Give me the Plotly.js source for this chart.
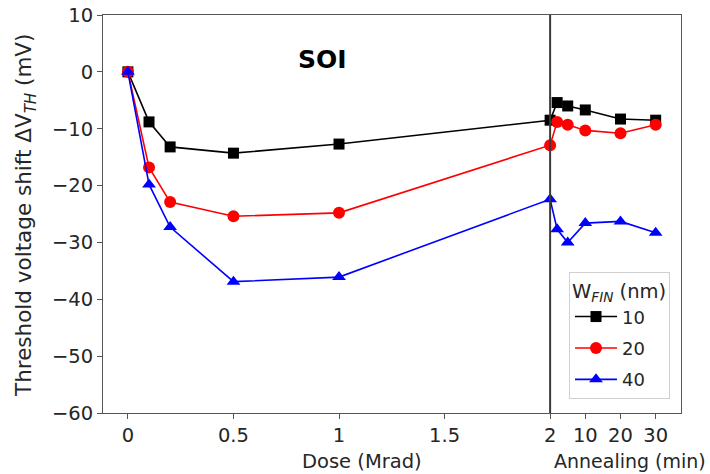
<!DOCTYPE html>
<html><head><meta charset="utf-8">
<script src="https://cdn.plot.ly/plotly-3.0.1.min.js"></script>
<style>html,body{margin:0;padding:0;background:#fff}#chart{width:710px;height:474px}</style>
</head><body><div id="chart"></div>
<script>
// Dose steps (Mrad) followed by annealing times (min)
const doseMrad = [0, 0.1, 0.2, 0.5, 1, 2];
const annealMin = [2, 5, 10, 20, 30];
const minPerUnit = 60; // annealing minutes mapped onto the dose axis after 2 Mrad

const w10 = [0, -8.8, -13.2, -14.3, -12.7, -8.5, -5.4, -6.0, -6.7, -8.3, -8.5];
const w20 = [0, -16.8, -22.9, -25.4, -24.8, -12.9, -8.8, -9.3, -10.3, -10.8, -9.3];
const w40 = [0, -19.8, -27.3, -36.9, -36.1, -22.4, -27.7, -30.0, -26.6, -26.3, -28.3];

const doseTicks = [0, 0.5, 1, 1.5, 2];
const doseTickLabels = ["0", "0.5", "1", "1.5", "2"];
const annealTicks = [10, 20, 30];
const annealTickLabels = ["10", "20", "30"];

const lastDose = doseMrad[doseMrad.length - 1];
const xs = doseMrad.concat(annealMin.map(t => lastDose + t / minPerUnit));
const tickvals = doseTicks.concat(annealTicks.map(t => lastDose + t / minPerUnit));
const ticktext = doseTickLabels.concat(annealTickLabels);

const font = "DejaVu Sans, sans-serif";
const txt = "#262626";
function tr(y, name, color, symbol, size) {
  return {x: xs, y: y, name: name, legendgroup: name, type: "scatter", mode: "lines+markers",
    line: {color: color, width: 1.6},
    marker: {color: color, symbol: symbol, size: size}};
}
const data = [
  tr(w10, "10", "#000000", "square", 11),
  tr(w20, "20", "#ff0000", "circle", 12),
  tr(w40, "40", "#0000ff", "triangle-up", 12)
];
const py = v => (413 - v) / 398;
const px = v => (v - 103) / 578;
const layout = {
  width: 710, height: 474,
  margin: {l: 103, r: 29, t: 15, b: 61},
  paper_bgcolor: "#fff", plot_bgcolor: "#fff",
  font: {family: font, color: txt, size: 19},
  showlegend: true,
  xaxis: {range: [-0.118, 2.62], tickvals: tickvals, ticktext: ticktext,
    showgrid: false, zeroline: false, showline: true, mirror: true,
    linecolor: "#555", linewidth: 1, ticks: "outside", ticklen: 5, tickcolor: "#555",
    tickfont: {size: 19.5, family: font, color: txt}},
  yaxis: {range: [-60, 10], dtick: 10, showgrid: false, zeroline: false,
    showline: true, mirror: true, linecolor: "#555", linewidth: 1,
    ticks: "outside", ticklen: 5, tickcolor: "#555",
    tickfont: {size: 19.5, family: font, color: txt}},
  shapes: [{type: "line", xref: "x", yref: "paper", x0: lastDose, x1: lastDose, y0: 0, y1: 1,
    line: {color: "#3a3a3a", width: 2}}],
  annotations: [
    {text: "<b>SOI</b>", xref: "paper", yref: "paper", x: px(322), y: py(60),
      xanchor: "center", yanchor: "middle",
      showarrow: false, font: {size: 25, family: font, color: "#000"}},
    {text: "Threshold voltage shift ΔV<sub><i>TH</i></sub> (mV)", xref: "paper", yref: "paper",
      x: px(25), y: py(216), textangle: -90, showarrow: false,
      xanchor: "center", yanchor: "middle", font: {size: 21.5, family: font, color: txt}},
    {text: "Dose (Mrad)", xref: "paper", yref: "paper", x: px(362), y: py(461),
      xanchor: "center", yanchor: "middle", showarrow: false,
      font: {size: 19.5, family: font, color: txt}},
    {text: "Annealing (min)", xref: "paper", yref: "paper", x: px(630), y: py(461),
      xanchor: "center", yanchor: "middle", showarrow: false,
      font: {size: 19, family: font, color: txt}}
  ],
  legend: {x: px(670), xanchor: "right", y: py(272), yanchor: "top",
    bgcolor: "rgba(255,255,255,0.9)", bordercolor: "#d0d0d0", borderwidth: 1,
    font: {size: 18, family: font, color: txt},
    title: {text: "W<sub><i>FIN</i></sub> (nm)", side: "top",
      font: {size: 19.5, family: font, color: txt}},
    tracegroupgap: 5, itemwidth: 42}
};
Plotly.newPlot("chart", data, layout, {displayModeBar: false, staticPlot: true});
</script></body></html>
